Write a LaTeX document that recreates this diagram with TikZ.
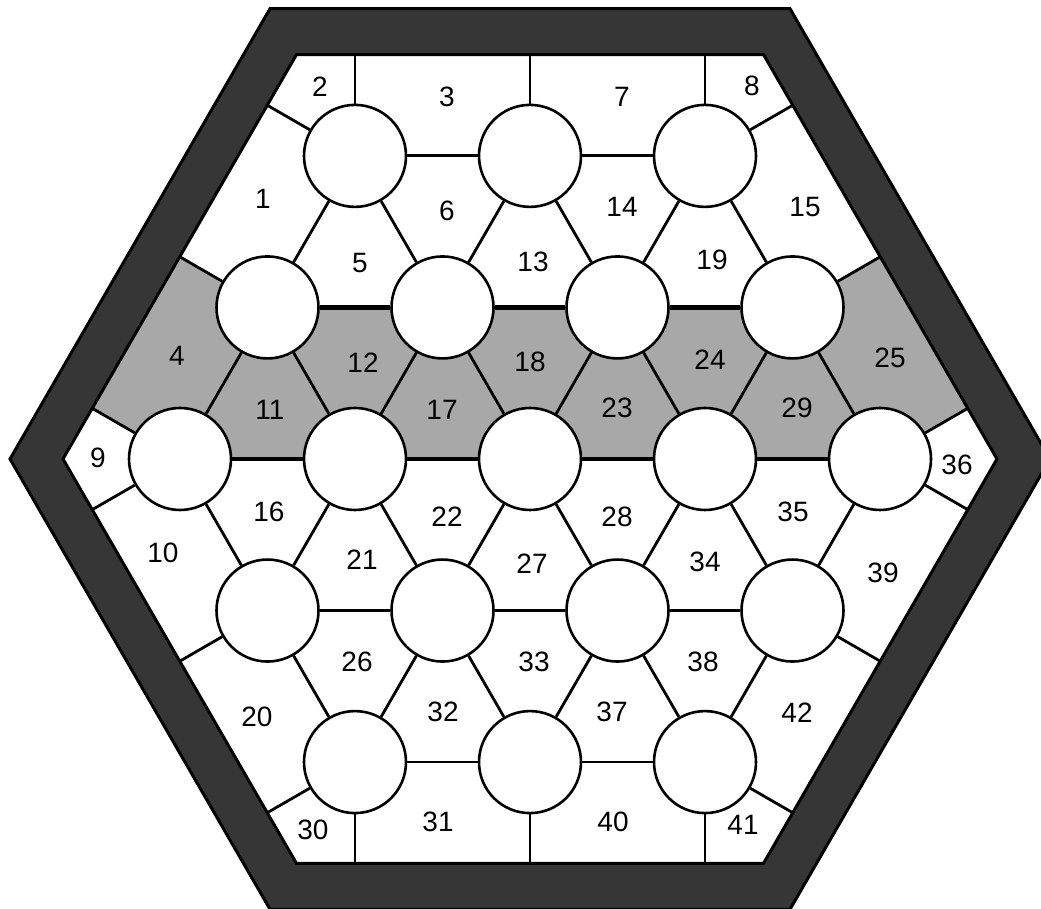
\documentclass[tikz,border=0pt]{standalone}
\usepackage{fontspec}
\setmainfont{Liberation Sans}
\usetikzlibrary{calc}
\definecolor{bandgray}{HTML}{A8A8A8}
\definecolor{rimgray}{HTML}{363636}
\tikzset{
  cell/.style={circle, draw=black, line width=2.6pt, fill=white, minimum size=102pt, inner sep=0pt},
  wall/.style={line width=2.8pt, draw=black},
  edgewall/.style={line width=4.5pt, draw=black},
  lbl/.style={font=\fontsize{28}{30}\selectfont, inner sep=0pt},
}
\begin{document}
\begin{tikzpicture}[x=1pt,y=1pt]
\useasboundingbox (0,0) rectangle (1041,909);
\fill[white] (0,0) rectangle (1041,909);
% hexagon corners
\coordinate (o1) at (10,450);
\coordinate (o2) at (270,900.3);
\coordinate (o3) at (790,900.3);
\coordinate (o4) at (1050,450);
\coordinate (o5) at (790,-0.3);
\coordinate (o6) at (270,-0.3);
\coordinate (i1) at (63,450);
\coordinate (i2) at (296.5,854.4);
\coordinate (i3) at (763.5,854.4);
\coordinate (i4) at (997,450);
\coordinate (i5) at (763.5,45.6);
\coordinate (i6) at (296.5,45.6);
% circle centres
\coordinate (p11) at (355,753.1);
\coordinate (p12) at (530,753.1);
\coordinate (p13) at (705,753.1);
\coordinate (p21) at (267.5,601.55);
\coordinate (p22) at (442.5,601.55);
\coordinate (p23) at (617.5,601.55);
\coordinate (p24) at (792.5,601.55);
\coordinate (p31) at (180,450);
\coordinate (p32) at (355,450);
\coordinate (p33) at (530,450);
\coordinate (p34) at (705,450);
\coordinate (p35) at (880,450);
\coordinate (p41) at (267.5,298.45);
\coordinate (p42) at (442.5,298.45);
\coordinate (p43) at (617.5,298.45);
\coordinate (p44) at (792.5,298.45);
\coordinate (p51) at (355,146.9);
\coordinate (p52) at (530,146.9);
\coordinate (p53) at (705,146.9);
% shaded band
\begin{scope}
  \clip (i1) -- (i2) -- (i3) -- (i4) -- (i5) -- (i6) -- cycle;
  \fill[bandgray] ($(p31)+(150:300)$) -- (p31) -- (p32) -- (p33) -- (p34) -- (p35)
    -- ($(p35)+(30:300)$) -- ($(p24)+(30:300)$) -- (p24) -- (p23) -- (p22) -- (p21)
    -- ($(p21)+(150:300)$) -- cycle;
\end{scope}
% circles
\foreach \n in {11,12,13,21,22,23,24,31,32,33,34,35,41,42,43,44,51,52,53}
  \node[cell] (c\n) at (p\n) {};
% connectors between circles
\draw[wall] (c11) -- (c12);
\draw[wall] (c12) -- (c13);
\draw[edgewall] (c21) -- (c22);
\draw[edgewall] (c22) -- (c23);
\draw[edgewall] (c23) -- (c24);
\draw[edgewall] (c31) -- (c32);
\draw[edgewall] (c32) -- (c33);
\draw[edgewall] (c33) -- (c34);
\draw[edgewall] (c34) -- (c35);
\draw[wall] (c41) -- (c42);
\draw[wall] (c42) -- (c43);
\draw[wall] (c43) -- (c44);
\draw[wall] (c51) -- (c52);
\draw[wall] (c52) -- (c53);
\draw[wall] (c11) -- (c21);
\draw[wall] (c11) -- (c22);
\draw[wall] (c12) -- (c22);
\draw[wall] (c12) -- (c23);
\draw[wall] (c13) -- (c23);
\draw[wall] (c13) -- (c24);
\draw[wall] (c21) -- (c31);
\draw[wall] (c21) -- (c32);
\draw[wall] (c22) -- (c32);
\draw[wall] (c22) -- (c33);
\draw[wall] (c23) -- (c33);
\draw[wall] (c23) -- (c34);
\draw[wall] (c24) -- (c34);
\draw[wall] (c24) -- (c35);
\draw[wall] (c31) -- (c41);
\draw[wall] (c32) -- (c41);
\draw[wall] (c32) -- (c42);
\draw[wall] (c33) -- (c42);
\draw[wall] (c33) -- (c43);
\draw[wall] (c34) -- (c43);
\draw[wall] (c34) -- (c44);
\draw[wall] (c35) -- (c44);
\draw[wall] (c41) -- (c51);
\draw[wall] (c42) -- (c51);
\draw[wall] (c42) -- (c52);
\draw[wall] (c43) -- (c52);
\draw[wall] (c43) -- (c53);
\draw[wall] (c44) -- (c53);
% connectors from circles to the rim
\begin{scope}
  \clip (i1) -- (i2) -- (i3) -- (i4) -- (i5) -- (i6) -- cycle;
  \draw[wall] (c11) -- ++(150:200);
  \draw[wall] (c11) -- ++(90:200);
  \draw[wall] (c12) -- ++(90:200);
  \draw[wall] (c13) -- ++(90:200);
  \draw[wall] (c13) -- ++(30:200);
  \draw[wall] (c21) -- ++(150:200);
  \draw[wall] (c24) -- ++(30:200);
  \draw[wall] (c31) -- ++(150:200);
  \draw[wall] (c31) -- ++(210:200);
  \draw[wall] (c35) -- ++(30:200);
  \draw[wall] (c35) -- ++(330:200);
  \draw[wall] (c41) -- ++(210:200);
  \draw[wall] (c44) -- ++(330:200);
  \draw[wall] (c51) -- ++(210:200);
  \draw[wall] (c51) -- ++(270:200);
  \draw[wall] (c52) -- ++(270:200);
  \draw[wall] (c53) -- ++(270:200);
  \draw[wall] (c53) -- ++(330:200);
\end{scope}
% rim
\fill[rimgray, even odd rule] (o1) -- (o2) -- (o3) -- (o4) -- (o5) -- (o6) -- cycle
  (i1) -- (i2) -- (i3) -- (i4) -- (i5) -- (i6) -- cycle;
\draw[black, line width=3pt] (o1) -- (o2) -- (o3) -- (o4) -- (o5) -- (o6) -- cycle;
\draw[black, line width=3pt] (i1) -- (i2) -- (i3) -- (i4) -- (i5) -- (i6) -- cycle;
% labels
\node[lbl] (n1) at (263,710) {1};
\node[lbl] (n2) at (320,822) {2};
\node[lbl] (n3) at (447,812) {3};
\node[lbl] (n4) at (177,553) {4};
\node[lbl] (n5) at (360,646) {5};
\node[lbl] (n6) at (447,698) {6};
\node[lbl] (n7) at (622,812) {7};
\node[lbl] (n8) at (752,823) {8};
\node[lbl] (n9) at (98,451) {9};
\node[lbl] (n10) at (163,356) {10};
\node[lbl] (n11) at (270,499) {11};
\node[lbl] (n12) at (363,546) {12};
\node[lbl] (n13) at (533,647) {13};
\node[lbl] (n14) at (622,702) {14};
\node[lbl] (n15) at (805,702) {15};
\node[lbl] (n16) at (269,397) {16};
\node[lbl] (n17) at (442,499) {17};
\node[lbl] (n18) at (530,547) {18};
\node[lbl] (n19) at (712,649) {19};
\node[lbl] (n20) at (257,192) {20};
\node[lbl] (n21) at (362,349) {21};
\node[lbl] (n22) at (447,392) {22};
\node[lbl] (n23) at (617,501) {23};
\node[lbl] (n24) at (710,549) {24};
\node[lbl] (n25) at (890,551) {25};
\node[lbl] (n26) at (357,247) {26};
\node[lbl] (n27) at (532,345) {27};
\node[lbl] (n28) at (617,392) {28};
\node[lbl] (n29) at (797,501) {29};
\node[lbl] (n30) at (313,79) {30};
\node[lbl] (n31) at (438,87) {31};
\node[lbl] (n32) at (443,197) {32};
\node[lbl] (n33) at (534,247) {33};
\node[lbl] (n34) at (705,347) {34};
\node[lbl] (n35) at (793,397) {35};
\node[lbl] (n36) at (957,444) {36};
\node[lbl] (n37) at (612,197) {37};
\node[lbl] (n38) at (703,247) {38};
\node[lbl] (n39) at (883,336) {39};
\node[lbl] (n40) at (613,87) {40};
\node[lbl] (n41) at (743,84) {41};
\node[lbl] (n42) at (797,196) {42};
\end{tikzpicture}
\end{document}
